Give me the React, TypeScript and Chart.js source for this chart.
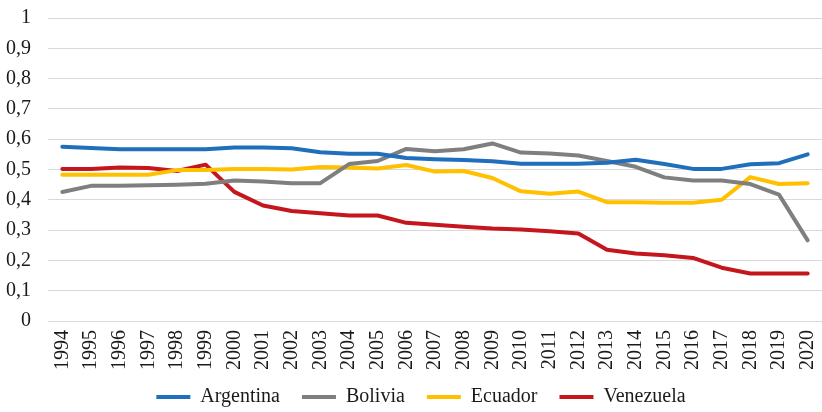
import React, { useEffect, useRef } from "react";
import { Chart, registerables } from "chart.js";

Chart.register(...registerables);

const years = [
  "1994", "1995", "1996", "1997", "1998", "1999", "2000", "2001", "2002", "2003",
  "2004", "2005", "2006", "2007", "2008", "2009", "2010", "2011", "2012", "2013",
  "2014", "2015", "2016", "2017", "2018", "2019", "2020",
];

const argentina = [
  0.575, 0.571, 0.567, 0.567, 0.567, 0.567, 0.573, 0.573, 0.57, 0.557,
  0.552, 0.552, 0.538, 0.534, 0.531, 0.527, 0.519, 0.519, 0.519, 0.522,
  0.532, 0.518, 0.502, 0.502, 0.517, 0.521, 0.55,
];

const bolivia = [
  0.426, 0.446, 0.446, 0.448, 0.45, 0.453, 0.464, 0.46, 0.455, 0.455,
  0.518, 0.528, 0.568, 0.56, 0.567, 0.586, 0.556, 0.553, 0.546, 0.528,
  0.509, 0.474, 0.464, 0.464, 0.452, 0.417, 0.266,
];

const ecuador = [
  0.483, 0.483, 0.483, 0.483, 0.498, 0.498, 0.502, 0.502, 0.5, 0.508,
  0.507, 0.503, 0.515, 0.493, 0.495, 0.472, 0.428, 0.42, 0.427, 0.392,
  0.392, 0.39, 0.39, 0.4, 0.475, 0.452, 0.455,
];

const venezuela = [
  0.502, 0.502, 0.507, 0.505, 0.495, 0.516, 0.426, 0.381, 0.363, 0.356,
  0.348, 0.348, 0.324, 0.318, 0.311, 0.305, 0.302, 0.296, 0.289, 0.235,
  0.223, 0.217, 0.208, 0.176, 0.157, 0.157, 0.157,
];

const seriesNames = ["Argentina", "Bolivia", "Ecuador", "Venezuela"];
const seriesColors = ["#1F6FBD", "#7F7F7F", "#FFC000", "#C4161C"];
const yTickLabels = ["0", "0,1", "0,2", "0,3", "0,4", "0,5", "0,6", "0,7", "0,8", "0,9", "1"];

export default function App() {
  const ref = useRef<HTMLCanvasElement | null>(null);

  useEffect(() => {
    if (!ref.current) return;
    const values = [argentina, bolivia, ecuador, venezuela];
    const font = { family: "'Liberation Serif', 'Times New Roman', serif", size: 20 };
    const legendShift = {
      id: "legendShift",
      afterLayout: (c: any) => {
        if (c.legend) {
          c.legend.left += 10;
          c.legend.right += 10;
          c.legend.top -= 4;
          c.legend.bottom -= 4;
        }
      },
    };
    const chart = new Chart(ref.current, {
      type: "line",
      data: {
        labels: years,
        datasets: seriesNames.map((name, i) => ({
          label: name,
          data: values[i],
          borderColor: seriesColors[i],
          backgroundColor: seriesColors[i],
          borderWidth: 4,
          pointRadius: 0,
          pointHoverRadius: 0,
          tension: 0,
          borderCapStyle: "round" as const,
          borderJoinStyle: "round" as const,
        })),
      },
      options: {
        responsive: false,
        animation: false,
        layout: { padding: { left: 0, right: 0, top: 18, bottom: -9 } },
        scales: {
          x: {
            offset: true,
            grid: { display: false, drawTicks: false },
            border: { display: true, color: "#D9D9D9", width: 1 },
            ticks: {
              autoSkip: false,
              maxRotation: 90,
              minRotation: 90,
              padding: 9,
              color: "#1a1a1a",
              font,
            },
            afterFit: (s: any) => {
              s.height = 48;
              s.paddingLeft = 0;
              s.paddingRight = 0;
            },
          },
          y: {
            min: 0,
            max: 1,
            grid: { color: "#D9D9D9", lineWidth: 1, drawTicks: false },
            border: { display: false },
            ticks: {
              stepSize: 0.1,
              padding: 17,
              color: "#1a1a1a",
              font,
              callback: (_v, idx) => yTickLabels[idx],
            },
            afterFit: (s: any) => {
              s.width = 48;
              s.paddingTop = 0;
              s.paddingBottom = 0;
            },
          },
        },
        plugins: {
          tooltip: { enabled: false },
          legend: {
            position: "bottom",
            labels: {
              boxWidth: 34,
              boxHeight: 4,
              padding: 22,
              color: "#1a1a1a",
              font,
              generateLabels: (c) =>
                Chart.defaults.plugins.legend.labels
                  .generateLabels(c)
                  .map((l) => ({ ...l, lineWidth: 0 })),
            },
          },
        },
      },
      plugins: [legendShift],
    });
    return () => chart.destroy();
  }, []);

  return (
    <div style={{ position: "fixed", left: 0, top: 0, width: 822, height: 412, background: "#fff", overflow: "hidden" }}>
      <canvas ref={ref} width={822} height={412} />
    </div>
  );
}
